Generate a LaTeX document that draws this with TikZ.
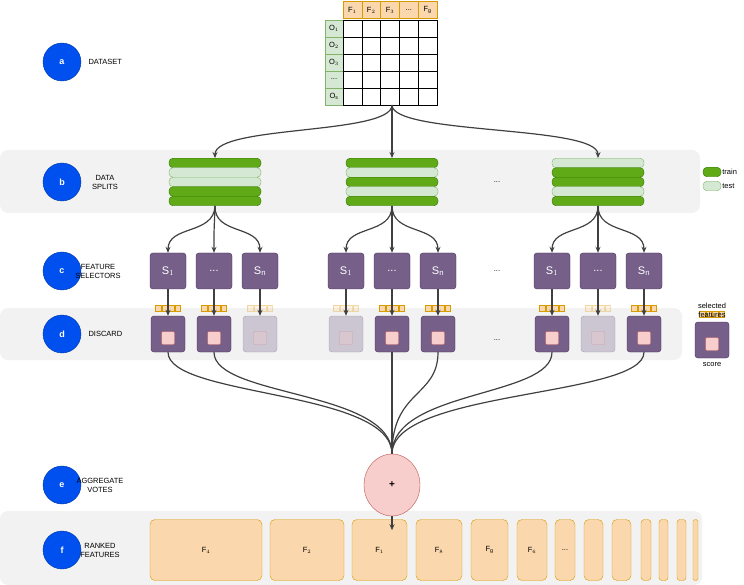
\documentclass[tikz,border=0pt]{standalone}
\usepackage{fontspec}
\setmainfont{Liberation Sans}
\usepackage{tikz}
\usetikzlibrary{positioning,calc,arrows.meta,shapes.geometric}
\definecolor{trainfill}{HTML}{60A917}
\definecolor{trainline}{HTML}{2D7600}
\definecolor{testfill}{HTML}{D5E8D4}
\definecolor{testline}{HTML}{82B366}
\definecolor{selfill}{HTML}{76608A}
\definecolor{selline}{HTML}{432D57}
\definecolor{featfill}{HTML}{FAD7AC}
\definecolor{featline}{HTML}{D79B00}
\definecolor{votefill}{HTML}{F8CECC}
\definecolor{voteline}{HTML}{B85450}
\definecolor{stepblue}{HTML}{0050EF}
\definecolor{bandgray}{HTML}{F2F2F2}
\newcommand{\figdots}{...}
\tikzset{
  figfont/.style={font=\fontsize{7.5}{9}\selectfont},
  figstep/.style={circle, fill=stepblue, draw=stepblue!70!black, minimum size=38pt, inner sep=0pt, text=white, font=\fontsize{9}{10}\selectfont\bfseries},
  figlabel/.style={align=center},
  figband/.style={fill=bandgray, rounded corners=8pt},
  figtrain/.style={draw=trainline, fill=trainfill, rounded corners=4pt, minimum width=92pt, minimum height=9.5pt, inner sep=0pt},
  figtest/.style={draw=testline, fill=testfill, rounded corners=4pt, minimum width=92pt, minimum height=9.5pt, inner sep=0pt},
  figsel/.style={draw=selline, fill=selfill, rounded corners=3pt, minimum size=36pt, inner sep=0pt, text=white, font=\fontsize{11}{12}\selectfont},
  figcard/.style={draw=selline, fill=selfill, rounded corners=3pt, minimum width=34pt, minimum height=36pt, inner sep=0pt},
  figfeat/.style={draw=featline, fill=featfill, minimum height=61pt, inner sep=0pt},
  figcell/.style={draw, minimum width=18.8pt, minimum height=17pt, inner sep=0pt},
  figarrow/.style={-{Stealth[length=6pt,width=5pt]}, line width=1.2pt, draw=black!75},
  figline/.style={line width=1.2pt, draw=black!75},
}
% vote card: name, x, y, opacity
\newcommand{\figvote}[4]{%
  \begin{scope}[opacity=#4]
    \node[figcard] (#1) at (#2,#3) {};
    \foreach \q in {0,...,3}
      \fill[featfill, draw=featline, line width=0.3pt] ($(#1.north west)+(4.5+\q*6.5,-5)$) rectangle ++(5.5,-6);
    \node[draw=voteline, fill=votefill, minimum size=13pt, inner sep=0pt, rounded corners=1pt] at ($(#1.center)+(0,4)$) {};
  \end{scope}}
\begin{document}
\begin{tikzpicture}[figfont, x=1pt, y=-1pt]
  \useasboundingbox (0,0) rectangle (744,585);
  % Bands
  \fill[figband] (0,150) rectangle (700,213);
  \fill[figband] (0,308) rectangle (682,360);
  \fill[figband] (0,511) rectangle (702,585);

  % Step markers
  \foreach \s/\y in {a/62, b/182, c/271, d/334, e/485, f/550}
    \node[figstep] (step\s) at (62,\y) {\s};
  \node[figlabel, anchor=west] (lbla) at (85,62) {DATASET};
  \node[figlabel] (lblb) at (105,182) {DATA\\SPLITS};
  \node[figlabel] (lblc) at (98,271) {FEATURE\\SELECTORS};
  \node[figlabel, anchor=west] (lbld) at (85,334) {DISCARD};
  \node[figlabel] (lble) at (100,485) {AGGREGATE\\VOTES};
  \node[figlabel] (lblf) at (100,550) {RANKED\\FEATURES};

  % Dataset matrix
  \foreach \j/\t in {1/F$_1$, 2/F$_2$, 3/F$_3$, 4/\figdots, 5/F$_\mathrm{g}$}
    \node[figcell, draw=featline, fill=featfill] (head\j) at (333.6+\j*18.8,10) {\t};
  \foreach \i/\t in {1/O$_1$, 2/O$_2$, 3/O$_3$, 4/\figdots, 5/O$_\mathrm{s}$} {
    \node[figcell, draw=testline, fill=testfill, minimum width=18pt] (row\i) at (334,11.5+\i*17) {\t};
    \foreach \j in {1,...,5}
      \node[figcell] (cell\i\j) at (333.6+\j*18.8,11.5+\i*17) {};
  }
  \coordinate (dsout) at (392,105);

  % Data splits
  \foreach \g/\cx/\pat in {1/215/{1,0,0,1,1}, 2/392/{1,0,1,0,1}, 3/598/{0,1,1,0,1}} {
    \foreach \b [count=\r] in \pat {
      \ifnum\b=1 \node[figtrain] (split\g\r) at (\cx,153.5+\r*9.5) {};
      \else \node[figtest] (split\g\r) at (\cx,153.5+\r*9.5) {}; \fi
    }
    \draw[figarrow] (dsout) .. controls (392,135) and (\cx,125) .. (split\g1.north);
  }
  \node (dotsb) at (497,182) {...};
  \node[figtrain, minimum width=18pt] (legtrain) at (712,172) {};
  \node[figtest, minimum width=18pt] (legtest) at (712,186) {};
  \node[anchor=west, inner sep=1pt] at (legtrain.east) {train};
  \node[anchor=west, inner sep=1pt] at (legtest.east) {test};

  % Feature selectors and votes
  \foreach \g/\cx/\fa/\fb/\fc in {1/214/1/1/0.3, 2/392/0.3/1/1, 3/598/1/0.3/1} {
    \foreach \d/\t/\o [count=\k] in {-46/S$_1$/\fa, 0/\figdots/\fb, 46/S$_\mathrm{n}$/\fc} {
      \node[figsel] (sel\g\k) at (\cx+\d,271) {\t};
      \draw[figarrow] (split\g5.south) .. controls (\cx,235) and (\cx+\d,225) .. (sel\g\k.north);
      \figvote{vote\g\k}{\cx+\d}{334}{\o}
      \draw[figarrow] (sel\g\k.south) -- (vote\g\k.north);
    }
  }
  \node (dotsc) at (497,271) {...};
  \node (dotsd) at (497,340) {...};

  % Aggregation
  \node[draw=voteline, fill=votefill, ellipse, minimum width=56pt, minimum height=62pt, inner sep=0pt, font=\bfseries] (agg) at (392,485) {+};
  \foreach \v in {vote11, vote12, vote22, vote23, vote31, vote33}
    \draw[figline] (\v.south) .. controls ($(\v.south)+(0,45)$) and (392,390) .. (agg.north);
  \figvote{legvote}{712}{340}{1}
  \node[align=center, above=1pt of legvote] {selected\\features};
  \node[below=1pt of legvote] {score};

  % Ranked features
  \foreach \l/\r/\t [count=\k] in {150/262/F$_4$, 270/344/F$_2$, 352/407/F$_1$, 416/462/F$_8$, 471/508/F$_\mathrm{g}$, 517/547/F$_6$, 555/575/\figdots, 584/603/, 612/631/, 641/651/, 659/668/, 677/686/, 693/698/} {
    \pgfmathsetmacro{\rc}{min(5,(\r-\l)/3)}
    \node[figfeat, minimum width=\r-\l, rounded corners=\rc pt] (feat\k) at ({(\l+\r)/2},550) {\t};
  }
  \draw[figarrow] (agg.south) -- ($(agg.south)+(0,14)$) coordinate (aggout);
\end{tikzpicture}
\end{document}
